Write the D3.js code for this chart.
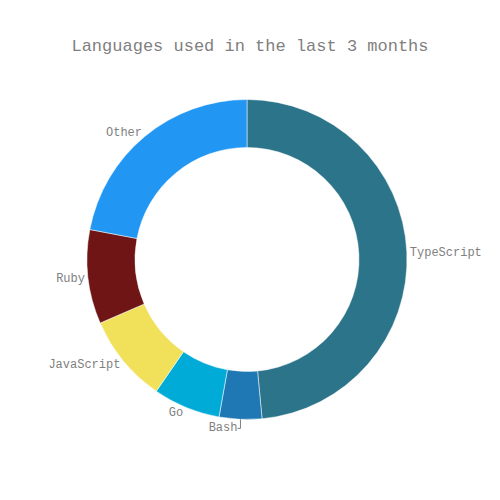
<!DOCTYPE html>
<meta charset="utf-8">
<style>
body { margin: 0; background: #fff; }
text { font-family: "Liberation Mono", "Courier New", monospace; fill: #7f7f7f; }
</style>
<body>
<script src="https://d3js.org/d3.v7.min.js"></script>
<script>
var width = 500,
    height = 500;

var languages = ["TypeScript", "Bash", "Go", "JavaScript", "Ruby", "Other"];
var shares = [48.5, 4.3, 6.8, 8.9, 9.5, 22.0];
var colors = ["#2b7489", "#1f77b4", "#00acd7", "#f1e05a", "#701516", "#2196f3"];

var cx = 247, cy = 259.5, outer = 160, inner = 112;

var svg = d3.select("body").append("svg")
    .attr("width", width)
    .attr("height", height);

svg.append("text")
    .attr("x", 250)
    .attr("y", 51)
    .attr("text-anchor", "middle")
    .style("font-size", "17px")
    .text("Languages used in the last 3 months");

var data = languages.map(function(d, i) { return {name: d, value: shares[i], color: colors[i]}; });

var pie = d3.pie().sort(null).value(function(d) { return d.value; });
var arc = d3.arc().innerRadius(inner).outerRadius(outer);

var g = svg.append("g").attr("transform", "translate(" + cx + "," + cy + ")");

var arcs = pie(data);

g.selectAll("path")
  .data(arcs)
  .enter().append("path")
    .attr("d", arc)
    .attr("fill", function(d) { return d.data.color; })
    .attr("stroke", "#fff")
    .attr("stroke-width", 0.5);

arcs.forEach(function(d) {
  var a = (d.startAngle + d.endAngle) / 2;
  var s = Math.sin(a), c = -Math.cos(a);
  var px = outer * s, py = outer * c;
  var lab = g.append("text").style("font-size", "12px").text(d.data.name);
  if (Math.abs(s) < 0.1 && c > 0) {
    // near the bottom: label moved aside with a small leader
    g.append("path")
      .attr("d", "M" + px + "," + py + "V" + (py + 9) + "H" + (px - 3))
      .attr("fill", "none")
      .attr("stroke", "#7f7f7f")
      .attr("stroke-width", 1);
    lab.attr("x", px - 3).attr("y", py + 12).attr("text-anchor", "end");
  } else {
    var anchor = s > 0 ? "start" : "end";
    var x = px + (s > 0 ? 3 : -3);
    var y = py + c * 5 + 4;
    lab.attr("x", x).attr("y", y).attr("text-anchor", anchor);
  }
});
</script>
